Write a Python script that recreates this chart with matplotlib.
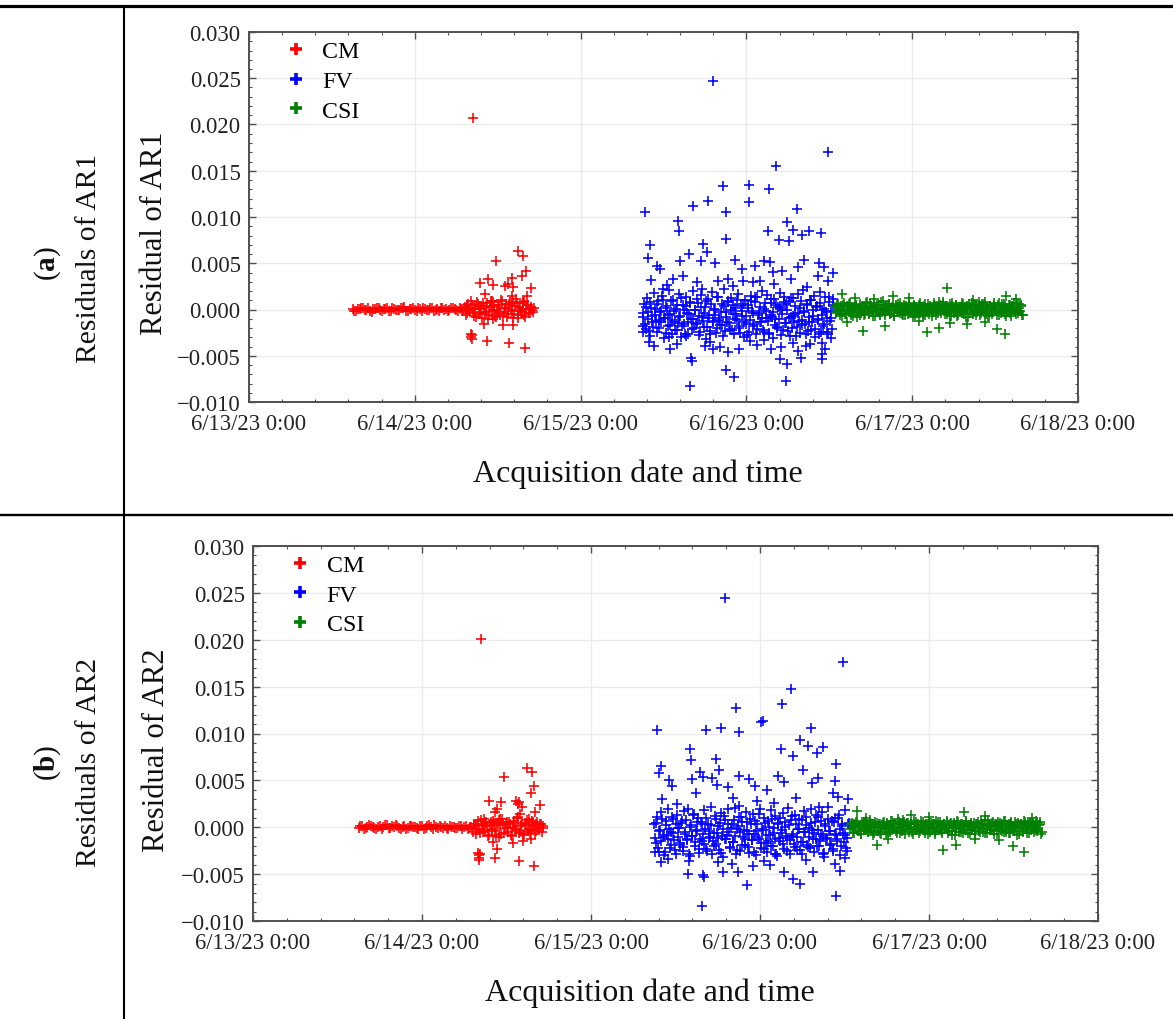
import numpy as np
import pandas as pd
import matplotlib
matplotlib.use("Agg")
import matplotlib.pyplot as plt
import matplotlib.dates as mdates
from matplotlib.ticker import MultipleLocator, AutoMinorLocator, FuncFormatter
from matplotlib.lines import Line2D

plt.rcParams['font.family'] = ['Liberation Serif', 'DejaVu Serif']
plt.rcParams['mathtext.fontset'] = 'custom'
plt.rcParams['mathtext.rm'] = 'Liberation Serif'
plt.rcParams['mathtext.bf'] = 'Liberation Serif:bold'

# ---------------- data (hours after 6/13/23 0:00, residuals in units of 0.001) ----------------
series_names = ["CM", "FV", "CSI"]
series_colors = ["#ff0000", "#0000ff", "#008000"]
x_tick_labels = ["6/13/23 0:00", "6/14/23 0:00", "6/15/23 0:00", "6/16/23 0:00", "6/17/23 0:00", "6/18/23 0:00"]

cm_hours = [15.0, 15.5, 16.0, 16.5, 17.0, 17.5, 18.0, 18.5, 19.0, 19.5, 20.0, 20.5, 21.0, 21.5, 22.0,
            22.5, 23.0, 23.5, 24.0, 24.5, 25.0, 25.5, 26.0, 26.5, 27.0, 27.5, 28.0, 28.5, 29.0, 29.5,
            30.0, 30.5, 31.0,
            31.25, 31.5, 31.75, 32.0, 32.25, 32.5, 32.75, 33.0, 33.25, 33.5, 33.75, 34.0, 34.25, 34.5,
            34.75, 35.0, 35.25, 35.5, 35.75, 36.0, 36.25, 36.5, 36.75, 37.0, 37.25, 37.5, 37.75, 38.0,
            38.25, 38.5, 38.75, 39.0, 39.25, 39.5, 39.75, 40.0, 40.25, 40.5, 40.75, 41.0, 41.25]
cm_ar1 = [0.05, -0.12, 0.10, 0.18, -0.05, -0.20, 0.08, 0.15, -0.10, 0.02,
          0.20, -0.15, 0.06, -0.08, 0.12, 0.22, -0.18, 0.04, -0.02, 0.16,
          -0.12, 0.10, -0.06, 0.20, 0.00, -0.16, 0.14, 0.08, -0.10, 0.18,
          -0.04, 0.12, -0.14,
          0.3, -0.4, 0.6, -0.2, 0.5, -0.7, 0.1, 0.8, -0.5, 0.4,
          -0.9, 0.2, -0.3, 0.7, -0.6, 0.9, -0.1, 0.5, -0.8, 0.3,
          -0.4, 1.0, -0.7, 0.2, 0.6, -0.5, 0.8, -0.2, -0.9, 0.4,
          0.7, -0.6, 0.1, -0.3, 0.9, -0.8, 0.5, -0.4, 0.3, -0.1, 0.2]
cm_ar2 = [-0.10, 0.15, -0.05, 0.20, 0.08, -0.18, 0.12, -0.02, 0.22, -0.12,
          0.05, 0.16, -0.20, 0.10, -0.06, 0.18, 0.02, -0.14, 0.12, -0.08,
          0.20, -0.16, 0.06, 0.14, -0.04, -0.12, 0.18, 0.00, -0.10, 0.16,
          0.08, -0.18, 0.04,
          -0.5, 0.4, -0.2, 0.7, -0.6, 0.3, 0.9, -0.4, 0.1, -0.8,
          0.6, -0.3, 0.5, -0.9, 0.2, 0.8, -0.7, 0.4, -0.1, 0.6,
          -0.5, 0.3, -0.9, 0.7, -0.2, 1.0, -0.6, 0.1, 0.5, -0.8,
          0.2, -0.4, 0.9, -0.3, 0.6, -0.7, 0.4, -0.1, 0.3, -0.5, 0.1]

cm_hours_2 = [15.25, 15.75, 16.25, 16.75, 17.25, 17.75, 18.25, 18.75, 19.25, 19.75, 20.25, 20.75,
              21.25, 21.75, 22.25, 22.75, 23.25, 23.75, 24.25, 24.75, 25.25, 25.75, 26.25, 26.75,
              27.25, 27.75, 28.25, 28.75, 29.25, 29.75, 30.25, 30.75,
              31.375, 31.625, 31.875, 32.125, 32.375, 32.625, 32.875, 33.125, 33.375, 33.625,
              33.875, 34.125, 34.375, 34.625, 34.875, 35.125, 35.375, 35.625, 35.875, 36.125,
              36.375, 36.625, 36.875, 37.125, 37.375, 37.625, 37.875, 38.125, 38.375, 38.625,
              38.875, 39.125, 39.375, 39.625, 39.875, 40.125, 40.375, 40.625, 40.875, 41.125]
cm_ar1_2 = [-0.15, 0.08, 0.20, -0.06, 0.12, -0.22, 0.03, 0.17, -0.11, 0.06,
            -0.19, 0.14, 0.00, -0.09, 0.21, -0.13, 0.07, 0.18, -0.17, 0.02,
            0.11, -0.07, 0.19, -0.20, 0.05, 0.13, -0.03, -0.18, 0.16, 0.09,
            -0.12, 0.04,
            -0.6, 0.5, -0.1, 0.9, -0.4, 0.2, -0.8, 0.6, -0.3, 0.1,
            0.7, -0.5, 0.4, -1.0, 0.3, -0.2, 0.8, -0.7, 0.0, 0.5,
            -0.6, 0.9, -0.3, 0.2, -0.8, 0.6, -0.1, 0.4, -0.5, 1.1,
            -0.9, 0.3, -0.2, 0.7, -0.6, 0.1, 0.5, -0.4, 0.2, -0.3]
cm_ar2_2 = [0.12, -0.20, 0.06, 0.17, -0.09, 0.03, -0.15, 0.21, -0.04, 0.10,
            0.19, -0.13, 0.07, -0.21, 0.14, 0.01, -0.08, 0.16, -0.18, 0.09,
            -0.02, 0.20, -0.11, 0.05, 0.15, -0.19, 0.08, -0.06, 0.13, -0.14,
            0.18, -0.01,
            0.4, -0.7, 0.2, -0.3, 0.8, -0.5, 0.1, 0.6, -0.9, 0.3,
            -0.2, 0.7, -0.4, 0.5, -1.0, 0.2, 0.9, -0.6, 0.3, -0.1,
            0.6, -0.8, 0.0, 0.5, -0.3, 1.1, -0.5, 0.2, -0.7, 0.4,
            0.8, -0.2, -0.6, 0.3, 0.1, -0.4, 0.6, -0.2, 0.4, -0.1]

cm_out_hours_ar1 = [32.42, 32.15, 32.2, 32.25, 32.3, 33.43, 34.15, 34.63, 35.38, 35.14, 35.71,
                    37.06, 37.54, 38.02, 38.02, 38.26, 38.26, 38.98, 39.48, 39.62, 39.62, 40.06,
                    40.2, 40.78, 34.06, 34.49, 35.38, 36.82, 37.68, 38.26, 40.0]
cm_out_ar1 = [20.7, -2.6, -3.0, -2.8, -3.2, 2.83, 1.68, 3.3, 2.65, 0.95, 5.28,
              2.57, 2.76, 3.37, 1.5, 2.4, 0.8, 6.3, 3.6, 5.75, 0.78, 4.2,
              1.5, 2.32, -1.57, -3.37, -1.0, -1.68, -3.62, -1.7, -4.2]
cm_out_hours_ar2 = [32.33, 32.0, 32.05, 32.1, 32.15, 32.2, 33.47, 34.37, 34.6, 35.27, 35.08, 35.64,
                    37.35, 37.6, 37.8, 38.15, 37.92, 38.96, 39.48, 39.57, 39.57, 39.95, 40.05, 40.76,
                    34.04, 34.41, 34.6, 36.88, 37.73, 38.3, 39.48, 39.95]
cm_out_ar2 = [20.08, -2.7, -3.0, -3.3, -3.5, -2.9, 2.84, 1.66, 2.0, 2.66, 0.88, 5.39,
              2.8, 2.5, 2.7, 2.12, 1.41, 6.32, 3.62, 5.93, 0.7, 4.36, 1.59, 2.37,
              -1.55, -3.32, -2.31, -1.69, -3.56, -1.51, -1.26, -4.09]

fv_hours = [57.0, 57.2, 57.4, 57.6, 57.8, 58.0, 58.2, 58.4, 58.6, 58.8, 59.0, 59.2, 59.4, 59.6, 59.8,
            60.0, 60.2, 60.4, 60.6, 60.8, 61.0, 61.2, 61.4, 61.6, 61.8, 62.0, 62.2, 62.4, 62.6, 62.8,
            63.0, 63.2, 63.4, 63.6, 63.8, 64.0, 64.2, 64.4, 64.6, 64.8, 65.0, 65.2, 65.4, 65.6, 65.8,
            66.0, 66.2, 66.4, 66.6, 66.8, 67.0, 67.2, 67.4, 67.6, 67.8, 68.0, 68.2, 68.4, 68.6, 68.8,
            69.0, 69.2, 69.4, 69.6, 69.8, 70.0, 70.2, 70.4, 70.6, 70.8, 71.0, 71.2, 71.4, 71.6, 71.8,
            72.0, 72.2, 72.4, 72.6, 72.8, 73.0, 73.2, 73.4, 73.6, 73.8, 74.0, 74.2, 74.4, 74.6, 74.8,
            75.0, 75.2, 75.4, 75.6, 75.8, 76.0, 76.2, 76.4, 76.6, 76.8, 77.0, 77.2, 77.4, 77.6, 77.8,
            78.0, 78.2, 78.4, 78.6, 78.8, 79.0, 79.2, 79.4, 79.6, 79.8, 80.0, 80.2, 80.4, 80.6, 80.8,
            81.0, 81.2, 81.4, 81.6, 81.8, 82.0, 82.2, 82.4, 82.6, 82.8, 83.0, 83.2, 83.4, 83.6, 83.8,
            84.0, 84.2, 84.4, 84.6]
fv_ar1 = [-0.8, 0.6, -2.1, 1.2, -0.3, -2.9, 0.2, -1.4, 1.8, -0.6,
          -2.4, 0.9, -1.1, -0.2, 1.5, -3.1, -0.9, 0.4, -1.8, 2.1,
          -0.5, -2.6, 1.0, -1.3, 0.1, -2.2, 1.7, -0.7, -3.0, 0.5,
          -1.6, 1.3, -0.4, -2.7, 0.8, -1.0, 2.0, -2.0, -0.1, -1.5,
          0.7, -2.8, 1.6, -0.8, -1.9, 0.3, -3.2, 1.1, -0.6, -2.3,
          1.9, -1.2, 0.0, -2.5, 1.4, -0.9, -1.7, 0.6, -2.9, 2.2,
          -0.3, -1.4, 0.9, -2.1, 1.2, -0.5, -2.6, 0.2, -1.1, 1.7,
          -2.0, 0.4, -0.7, -3.0, 1.0, -1.6, 0.5, -2.4, 1.5, -0.2,
          -1.8, 0.8, -2.7, 1.3, -0.4, -1.3, 2.0, -2.2, 0.1, -0.9,
          1.6, -2.5, -0.6, 0.7, -3.1, 1.1, -1.0, -1.9, 0.3, 1.8,
          -2.8, -0.1, 1.4, -1.5, 0.6, -2.3, 0.9, -0.8, -2.0, 1.2,
          -0.5, -2.9, 1.7, -1.2, 0.2, -1.7, 2.1, -0.3, -2.6, 0.5,
          -1.4, 1.0, -2.2, -0.7, 1.5, -3.0, 0.4, -1.1, 1.9, -2.4,
          0.0, -1.6, 1.3, -0.9, -2.7, 0.8, -0.2, -2.1, 1.1]
fv_ar2 = [0.4, -1.7, 1.1, -2.6, -0.3, 1.6, -1.0, -3.0, 0.7, -0.8,
          1.9, -2.2, -0.5, 0.9, -1.4, -2.9, 1.3, -0.1, -1.9, 0.5,
          -2.5, 1.7, -0.7, -1.2, 2.0, -3.1, 0.2, -0.9, 1.4, -2.0,
          -0.4, 1.0, -2.7, 0.6, -1.5, 1.8, -0.2, -2.3, 0.3, -1.1,
          2.2, -2.8, -0.6, 1.2, -1.8, 0.1, -2.4, 1.5, -0.9, -3.2,
          0.8, -1.3, 1.9, -0.5, -2.1, 0.4, -1.6, 2.1, -2.9, -0.2,
          1.1, -2.5, 0.6, -1.0, -1.9, 1.6, -0.4, -2.7, 0.9, -1.4,
          1.4, -0.7, -3.0, 0.3, -1.2, 2.0, -2.2, -0.3, 1.0, -1.7,
          -2.6, 0.7, -0.8, 1.8, -2.0, -0.1, 1.2, -3.1, 0.5, -1.5,
          -0.6, 1.5, -2.3, 0.0, -1.1, 2.1, -2.8, 0.8, -0.9, -1.8,
          1.3, -2.4, -0.2, 0.9, -1.6, -2.9, 1.7, -0.5, 0.2, -2.1,
          -1.0, 1.9, -0.3, -2.6, 0.6, -1.3, 1.1, -2.0, -0.7, 1.6,
          -2.8, 0.4, -1.2, 2.2, -0.4, -1.9, 0.7, -2.5, 1.0, -0.8,
          -1.5, 1.3, -3.0, 0.1, -0.6, 1.8, -2.2, -1.1, 0.5]

fv_hours_2 = [57.1, 57.3, 57.5, 57.7, 57.9, 58.1, 58.3, 58.5, 58.7, 58.9,
              59.1, 59.3, 59.5, 59.7, 59.9, 60.1, 60.3, 60.5, 60.7, 60.9,
              61.1, 61.3, 61.5, 61.7, 61.9, 62.1, 62.3, 62.5, 62.7, 62.9,
              63.1, 63.3, 63.5, 63.7, 63.9, 64.1, 64.3, 64.5, 64.7, 64.9,
              65.1, 65.3, 65.5, 65.7, 65.9, 66.1, 66.3, 66.5, 66.7, 66.9,
              67.1, 67.3, 67.5, 67.7, 67.9, 68.1, 68.3, 68.5, 68.7, 68.9,
              69.1, 69.3, 69.5, 69.7, 69.9, 70.1, 70.3, 70.5, 70.7, 70.9,
              71.1, 71.3, 71.5, 71.7, 71.9, 72.1, 72.3, 72.5, 72.7, 72.9,
              73.1, 73.3, 73.5, 73.7, 73.9, 74.1, 74.3, 74.5, 74.7, 74.9,
              75.1, 75.3, 75.5, 75.7, 75.9, 76.1, 76.3, 76.5, 76.7, 76.9,
              77.1, 77.3, 77.5, 77.7, 77.9, 78.1, 78.3, 78.5, 78.7, 78.9,
              79.1, 79.3, 79.5, 79.7, 79.9, 80.1, 80.3, 80.5, 80.7, 80.9,
              81.1, 81.3, 81.5, 81.7, 81.9, 82.1, 82.3, 82.5, 82.7, 82.9,
              83.1, 83.3, 83.5, 83.7, 83.9, 84.1, 84.3, 84.5]
fv_ar1_2 = [-0.4, -1.6, 0.3, -1.0, -2.3, 0.8, -0.7, -1.9, 0.1, -1.2,
            0.6, -2.0, -0.3, -1.4, 1.0, -0.9, -2.5, 0.2, -0.6, -1.7,
            0.9, -1.1, -0.2, -2.2, 0.5, -1.5, -0.8, 1.2, -1.8, -0.1,
            -2.6, 0.4, -1.3, -0.5, 0.7, -2.1, -1.0, 0.0, -1.6, 1.1,
            -0.7, -2.4, 0.3, -1.2, -0.4, 0.9, -1.9, -0.9, -2.7, 0.6,
            -1.4, 0.1, -0.6, -2.0, 1.3, -1.1, -0.3, -1.7, 0.4, -2.3,
            -0.8, 0.8, -1.5, -0.1, -2.2, 0.5, -1.0, -0.5, 1.0, -1.8,
            -2.5, -0.2, 0.6, -1.3, -0.7, -2.8, 0.2, -1.1, 0.9, -0.4,
            -1.6, 1.4, -2.1, -0.6, 0.3, -1.4, -0.9, -2.4, 0.7, -0.2,
            -1.2, -2.6, 1.1, -0.8, -0.3, -1.7, 0.5, -2.0, -1.0, 0.2,
            -0.5, -2.2, 0.8, -1.5, 0.0, -0.9, -2.9, 1.2, -0.7, -1.3,
            0.4, -1.9, -0.4, -2.5, 0.9, -1.1, -0.2, -1.6, 0.6, -2.3,
            -0.8, 1.0, -1.4, -0.1, -2.1, 0.3, -1.0, -2.7, 0.7, -0.6,
            -1.8, 0.1, -0.3, -2.4, 1.3, -1.2, -0.9, 0.5]
fv_ar2_2 = [-1.1, 0.5, -2.2, -0.4, -1.5, 0.9, -0.8, -2.6, 0.2, -1.3,
            -0.2, -1.9, 1.1, -0.6, -2.4, 0.4, -1.0, -0.1, -1.7, 0.7,
            -2.1, -0.5, 0.8, -1.4, -2.8, 0.0, -0.9, 1.3, -1.6, -0.3,
            0.6, -2.3, -1.2, 0.3, -0.7, -1.8, 1.0, -2.5, -0.4, -1.0,
            0.2, -1.5, -2.0, 0.9, -0.6, -1.1, 0.5, -2.7, -0.2, 1.2,
            -1.3, -0.8, 0.4, -2.2, -0.1, -1.6, 0.8, -0.9, -2.4, 0.1,
            -0.5, 1.1, -1.9, -0.3, -1.2, 0.6, -2.1, -0.7, 0.3, -1.4,
            -2.6, 0.7, -0.4, -1.0, 1.4, -1.7, -0.2, -2.3, 0.5, -0.8,
            -1.5, 0.0, -2.0, 0.9, -0.6, -1.3, -2.8, 0.3, -1.1, 1.0,
            -0.3, -1.8, 0.6, -0.9, -2.5, 0.2, -1.4, 1.2, -0.7, -2.1,
            0.4, -1.0, -0.2, -2.4, 0.8, -1.6, -0.5, 1.1, -1.9, -0.1,
            -2.2, 0.5, -1.2, -0.6, 1.3, -2.0, -0.3, -1.5, 0.7, -0.9,
            -2.7, 0.1, -1.1, 0.9, -0.4, -1.8, -2.3, 0.6, -0.7, -1.3,
            1.0, -0.2, -2.0, 0.3, -1.6, -0.8, -2.5, 0.4]

fv_out_hours_ar1 = [67.12, 83.86, 76.28, 68.57, 72.33, 75.22, 64.32, 66.39, 72.38, 57.37, 69.0, 79.27,
                    62.05, 62.2, 77.83, 75.08, 78.79, 80.1, 81.1, 82.84, 76.72, 78.12, 69.0, 58.0,
                    57.7, 65.77, 66.25, 63.64, 62.39, 59.0, 59.5, 58.15, 61.33, 62.87, 65.38, 67.45,
                    70.35, 73.29, 74.55, 75.41, 75.9, 77.11, 79.52, 80.29, 82.56, 83.23, 84.49, 67.94,
                    69.38, 71.31, 71.55, 73.0, 73.97, 78.45, 82.41, 83.86, 59.98, 64.8, 65.53,
                    60.5, 70.0, 76.0, 80.8,
                    63.84, 69.05, 70.2, 77.69, 76.86, 77.83, 63.93, 64.08, 82.9, 82.9, 83.38, 69.38,
                    70.97, 79.9, 79.42, 81.2, 61.9, 57.95, 57.08, 75.52, 67.21, 63.26, 57.1,
                    66.8, 72.5, 78.8, 74.6, 60.8, 58.6, 61.0, 66.0, 68.2, 73.5, 77.0, 80.6, 83.0, 84.2]
fv_out_ar1 = [24.67, 16.99, 15.55, 13.39, 13.5, 13.03, 11.23, 11.7, 11.59, 10.5, 10.5, 10.86,
              9.54, 8.45, 9.42, 8.45, 8.59, 8.09, 8.52, 8.24, 7.5, 7.37, 7.62, 7.0,
              5.57, 7.08, 6.25, 6.0, 5.2, 4.74, 4.38, 3.19, 3.3, 3.66, 5.28, 5.03,
              5.39, 4.74, 5.28, 5.17, 4.02, 4.13, 4.56, 5.35, 5.03, 4.56, 3.9, 3.12,
              3.3, 4.38, 3.12, 2.94, 3.12, 3.3, 3.66, 3.12, 2.22, 2.94, 2.22,
              2.6, 2.5, 2.8, 2.4,
              -8.23, -6.5, -7.26, -7.76, -5.35, -5.89, -5.24, -5.53, -5.35, -4.8, -4.27, -4.56,
              -4.27, -5.28, -4.52, -3.73, -3.73, -3.47, -2.46, -4.27, -4.27, -2.83, -1.74,
              -3.5, -3.4, -3.6, -3.3, -3.0, -3.9, -4.3, -3.9, -4.0, -3.8, -4.1, -3.9, -3.6, -3.1]
fv_out_hours_ar2 = [67.07, 83.83, 76.35, 75.17, 68.55, 72.38, 72.2, 57.33, 64.33, 66.46, 69.02, 79.24,
                    77.73, 78.77, 81.0, 80.05, 75.03, 76.64, 62.01, 62.15, 65.75, 57.94, 57.61, 66.22,
                    78.06, 82.79, 59.12, 59.46, 62.34, 63.48, 63.95, 65.14, 65.94, 67.5, 69.02, 70.48,
                    71.29, 72.94, 74.6, 75.41, 79.43, 80.28, 82.65, 82.4, 83.12, 84.45, 62.87, 58.08,
                    68.21, 69.06, 71.53, 77.11, 80.43, 60.2, 74.0,
                    63.81, 82.79, 70.1, 77.68, 76.73, 64.09, 63.86, 61.82, 66.79, 68.92, 70.96, 75.41,
                    79.48, 83.36, 82.65, 81.09, 57.89, 57.09, 61.96, 74.13, 72.62,
                    59.0, 66.0, 68.0, 73.4, 78.5, 84.0]
fv_out_ar2 = [24.45, 17.66, 14.75, 13.18, 12.68, 11.37, 11.2, 10.34, 10.34, 10.62, 10.12, 10.62,
              9.27, 8.7, 8.52, 7.92, 8.31, 7.56, 8.31, 7.2, 7.31, 6.5, 5.74, 6.14,
              6.1, 6.75, 5.04, 4.36, 5.14, 5.93, 5.33, 5.26, 4.51, 4.3, 5.5, 5.15,
              4.44, 4.0, 5.44, 4.87, 4.73, 5.26, 4.97, 3.62, 3.19, 3.01, 3.62, 3.01,
              3.13, 2.3, 2.76, 3.08, 2.13, 2.5, 2.6,
              -8.37, -7.37, -6.16, -6.05, -5.52, -5.34, -5.1, -4.99, -4.81, -4.81, -4.1, -4.81,
              -4.81, -4.7, -3.92, -3.2, -3.67, -2.6, -3.56, -2.85, -3.56,
              -3.4, -3.7, -3.9, -4.0, -3.5, -3.3]

csi_hours = [84.8, 85.0, 85.2, 85.4, 85.6, 85.8, 86.0, 86.2, 86.4, 86.6, 86.8, 87.0, 87.2, 87.4, 87.6,
             87.8, 88.0, 88.2, 88.4, 88.6, 88.8, 89.0, 89.2, 89.4, 89.6, 89.8, 90.0, 90.2, 90.4, 90.6,
             90.8, 91.0, 91.2, 91.4, 91.6, 91.8, 92.0, 92.2, 92.4, 92.6, 92.8, 93.0, 93.2, 93.4, 93.6,
             93.8, 94.0, 94.2, 94.4, 94.6, 94.8, 95.0, 95.2, 95.4, 95.6, 95.8, 96.0, 96.2, 96.4, 96.6,
             96.8, 97.0, 97.2, 97.4, 97.6, 97.8, 98.0, 98.2, 98.4, 98.6, 98.8, 99.0, 99.2, 99.4, 99.6,
             99.8, 100.0, 100.2, 100.4, 100.6, 100.8, 101.0, 101.2, 101.4, 101.6, 101.8, 102.0, 102.2,
             102.4, 102.6, 102.8, 103.0, 103.2, 103.4, 103.6, 103.8, 104.0, 104.2, 104.4, 104.6, 104.8,
             105.0, 105.2, 105.4, 105.6, 105.8, 106.0, 106.2, 106.4, 106.6, 106.8, 107.0, 107.2, 107.4,
             107.6, 107.8, 108.0, 108.2, 108.4, 108.6, 108.8, 109.0, 109.2, 109.4, 109.6, 109.8, 110.0,
             110.2, 110.4, 110.6, 110.8, 111.0, 111.2, 111.4, 111.6, 111.8, 112.0]
csi_ar1 = [0.3, -0.4, 0.6, -0.2, 0.1, -0.7, 0.5, 0.0, -0.5, 0.4,
           -0.1, 0.7, -0.6, 0.2, -0.3, 0.5, -0.8, 0.1, 0.6, -0.4,
           0.0, -0.6, 0.3, 0.8, -0.2, -0.5, 0.4, -0.1, 0.7, -0.7,
           0.2, -0.3, 0.5, -0.6, 0.1, 0.9, -0.4, 0.3, -0.2, 0.6,
           -0.5, 0.0, 0.4, -0.7, 0.2, -0.1, 0.6, -0.4, 0.3, -0.6,
           0.5, -0.2, 0.1, -0.5, 0.7, -0.3, 0.0, 0.4, -0.6, 0.2,
           -0.1, 0.5, -0.4, 0.3, -0.7, 0.6, -0.2, 0.1, -0.5, 0.4,
           0.0, -0.3, 0.7, -0.6, 0.2, -0.1, 0.5, -0.4, 0.8, -0.2,
           0.3, -0.5, 0.1, 0.6, -0.7, 0.4, -0.3, 0.0, 0.5, -0.6,
           0.2, -0.1, 0.7, -0.4, 0.3, -0.8, 0.1, 0.6, -0.2, 0.4,
           -0.5, 0.0, 0.5, -0.3, 0.8, -0.6, 0.2, -0.1, 0.6, -0.4,
           0.3, -0.7, 0.4, 0.1, -0.5, 0.7, -0.2, 0.0, 0.5, -0.6,
           0.2, 0.6, -0.3, 0.4, -0.7, 0.1, 0.5, -0.4, 0.3, -0.1,
           0.7, -0.5, 0.2, 0.6, -0.2, 0.4, -0.6]
csi_ar2 = [-0.2, 0.5, -0.6, 0.3, 0.0, 0.7, -0.4, 0.1, -0.7, 0.4,
           0.6, -0.3, 0.2, -0.5, 0.8, -0.1, 0.4, -0.6, 0.0, 0.5,
           -0.4, 0.3, -0.7, 0.1, 0.6, -0.2, 0.5, -0.5, 0.2, 0.7,
           -0.3, 0.0, 0.4, -0.6, 0.9, -0.1, 0.3, -0.4, 0.6, -0.7,
           0.1, 0.5, -0.2, 0.3, -0.5, 0.7, 0.0, -0.3, 0.4, -0.6,
           0.2, -0.1, 0.6, -0.4, 0.3, -0.7, 0.5, 0.1, -0.2, 0.4,
           -0.5, 0.7, -0.3, 0.0, 0.6, -0.6, 0.2, 0.4, -0.1, 0.5,
           -0.4, 0.3, -0.8, 0.1, 0.5, -0.2, 0.7, -0.5, 0.0, 0.4,
           -0.6, 0.2, 0.6, -0.3, 0.1, -0.7, 0.4, 0.0, 0.5, -0.4,
           0.3, -0.1, -0.5, 0.7, -0.2, 0.4, -0.6, 0.2, 0.8, -0.3,
           0.0, 0.5, -0.4, 0.3, -0.7, 0.6, 0.1, -0.2, 0.4, -0.5,
           0.7, -0.3, 0.2, -0.6, 0.5, 0.0, -0.4, 0.6, -0.1, 0.3,
           -0.7, 0.4, 0.1, -0.5, 0.6, -0.2, 0.3, -0.6, 0.5, 0.0,
           0.4, -0.3, 0.7, -0.4, 0.2, 0.6, -0.5]

csi_hours_2 = [84.9, 85.1, 85.3, 85.5, 85.7, 85.9, 86.1, 86.3, 86.5, 86.7,
               86.9, 87.1, 87.3, 87.5, 87.7, 87.9, 88.1, 88.3, 88.5, 88.7,
               88.9, 89.1, 89.3, 89.5, 89.7, 89.9, 90.1, 90.3, 90.5, 90.7,
               90.9, 91.1, 91.3, 91.5, 91.7, 91.9, 92.1, 92.3, 92.5, 92.7,
               92.9, 93.1, 93.3, 93.5, 93.7, 93.9, 94.1, 94.3, 94.5, 94.7,
               94.9, 95.1, 95.3, 95.5, 95.7, 95.9, 96.1, 96.3, 96.5, 96.7,
               96.9, 97.1, 97.3, 97.5, 97.7, 97.9, 98.1, 98.3, 98.5, 98.7,
               98.9, 99.1, 99.3, 99.5, 99.7, 99.9, 100.1, 100.3, 100.5, 100.7,
               100.9, 101.1, 101.3, 101.5, 101.7, 101.9, 102.1, 102.3, 102.5, 102.7,
               102.9, 103.1, 103.3, 103.5, 103.7, 103.9, 104.1, 104.3, 104.5, 104.7,
               104.9, 105.1, 105.3, 105.5, 105.7, 105.9, 106.1, 106.3, 106.5, 106.7,
               106.9, 107.1, 107.3, 107.5, 107.7, 107.9, 108.1, 108.3, 108.5, 108.7,
               108.9, 109.1, 109.3, 109.5, 109.7, 109.9, 110.1, 110.3, 110.5, 110.7,
               110.9, 111.1, 111.3, 111.5, 111.7, 111.9]
csi_ar1_2 = [-0.3, 0.5, 0.0, -0.6, 0.4, -0.2, 0.7, -0.5, 0.2, -0.1,
             0.6, -0.4, 0.1, -0.7, 0.3, 0.5, -0.3, 0.0, -0.6, 0.4,
             0.2, -0.5, 0.7, -0.1, -0.4, 0.6, 0.1, -0.7, 0.3, -0.2,
             0.5, 0.0, -0.5, 0.8, -0.3, 0.2, -0.6, 0.4, -0.1, 0.6,
             -0.4, 0.3, -0.7, 0.1, 0.5, -0.2, 0.0, 0.7, -0.5, 0.2,
             -0.6, 0.4, -0.1, 0.6, -0.3, 0.1, -0.8, 0.5, 0.3, -0.4,
             0.0, 0.7, -0.2, -0.5, 0.4, -0.6, 0.2, 0.6, -0.3, 0.1,
             -0.7, 0.5, 0.3, -0.1, -0.4, 0.8, -0.2, 0.0, 0.6, -0.5,
             0.4, -0.3, 0.1, -0.6, 0.7, 0.2, -0.4, 0.5, -0.7, 0.0,
             0.3, -0.2, 0.6, -0.5, 0.1, 0.4, -0.8, 0.2, -0.1, 0.7,
             -0.3, 0.5, -0.6, 0.0, 0.3, -0.4, 0.6, -0.2, 0.8, -0.5,
             0.1, -0.7, 0.4, 0.2, -0.3, 0.5, -0.1, -0.6, 0.7, 0.0,
             -0.4, 0.3, 0.6, -0.5, 0.2, -0.2, 0.5, -0.7, 0.4, 0.1,
             -0.3, 0.6, -0.4, 0.2, 0.5, -0.6]
csi_ar2_2 = [0.4, -0.1, -0.6, 0.2, 0.6, -0.4, 0.0, -0.7, 0.3, 0.5,
             -0.2, 0.7, -0.5, 0.1, -0.3, 0.4, -0.8, 0.6, 0.0, -0.4,
             0.3, -0.6, 0.2, 0.5, -0.1, -0.7, 0.4, 0.1, -0.5, 0.7,
             -0.2, 0.3, -0.4, 0.0, 0.6, -0.6, 0.2, 0.8, -0.3, 0.1,
             0.5, -0.5, -0.1, 0.4, -0.7, 0.3, 0.6, -0.2, 0.0, -0.4,
             0.7, -0.3, 0.2, -0.6, 0.4, 0.1, -0.5, 0.5, -0.1, 0.3,
             -0.7, 0.0, 0.6, -0.3, 0.2, -0.5, 0.4, -0.2, 0.7, -0.6,
             0.1, 0.5, -0.4, 0.3, -0.8, 0.2, 0.6, -0.1, -0.5, 0.4,
             0.0, -0.3, 0.7, -0.6, 0.2, 0.5, -0.2, 0.1, -0.7, 0.3,
             0.6, -0.4, 0.0, 0.4, -0.5, 0.8, -0.2, -0.6, 0.3, 0.1,
             -0.3, 0.6, -0.7, 0.2, 0.4, -0.1, 0.5, -0.4, 0.0, 0.7,
             -0.5, 0.2, 0.3, -0.6, 0.6, -0.2, 0.1, 0.4, -0.8, 0.5,
             -0.1, 0.3, -0.4, 0.7, 0.0, -0.6, 0.2, 0.5, -0.3, 0.4,
             -0.5, 0.1, 0.6, -0.2, 0.3, -0.7]

csi_out_hours_ar1 = [100.99, 109.58, 98.09, 99.93, 88.83, 109.43, 108.22, 85.79, 93.27, 92.06, 86.51,
                     103.88, 90.5, 95.6, 104.8, 106.5, 97.0, 111.0, 87.7, 101.5]
csi_out_ar1 = [2.29, 1.42, -2.46, -2.04, -2.29, -2.65, -2.11, 1.68, 1.42, -1.74, -1.39,
               -1.56, 1.1, 1.2, 1.0, -1.3, -1.2, 1.1, 1.2, -1.5]
csi_out_hours_ar2 = [98.03, 109.49, 99.83, 88.57, 100.97, 93.44, 85.73, 107.98, 104.0, 96.0, 90.2,
                     106.0, 110.6, 102.6, 87.0]
csi_out_ar2 = [-2.43, -2.67, -1.89, -1.89, 1.59, 1.31, 1.77, -1.96, 1.2, 1.1, -1.3,
               -1.4, 1.0, -1.2, 1.0]

panels = [
    dict(tag="a", model="AR1",
         series=[[(cm_hours, cm_ar1), (cm_hours_2, cm_ar1_2), (cm_out_hours_ar1, cm_out_ar1)],
                 [(fv_hours, fv_ar1), (fv_hours_2, fv_ar1_2), (fv_out_hours_ar1, fv_out_ar1)],
                 [(csi_hours, csi_ar1), (csi_hours_2, csi_ar1_2), (csi_out_hours_ar1, csi_out_ar1)]]),
    dict(tag="b", model="AR2",
         series=[[(cm_hours, cm_ar2), (cm_hours_2, cm_ar2_2), (cm_out_hours_ar2, cm_out_ar2)],
                 [(fv_hours, fv_ar2), (fv_hours_2, fv_ar2_2), (fv_out_hours_ar2, fv_out_ar2)],
                 [(csi_hours, csi_ar2), (csi_hours_2, csi_ar2_2), (csi_out_hours_ar2, csi_out_ar2)]]),
]

BASE = pd.Timestamp("2023-06-13 00:00")


def to_dt(hours):
    return (BASE + pd.to_timedelta(np.asarray(hours, dtype=float), unit="h")).to_numpy()


W, H = 1173, 1020
fig = plt.figure(figsize=(W / 100, H / 100), dpi=100)

# layout in pixels: (left, right, top, bottom)
axes_px = [(249, 1078, 33, 403), (253, 1098, 547, 922)]
xlabel_px = [(638, 474), (650, 993)]
ylabel_px = [(155, 233), (157, 750)]
tag_px = [(48, 264), (48, 763)]
rowlab_px = [(89, 258), (89, 762)]

spine_col = "#505050"
for i, p in enumerate(panels):
    l, r, t, b = axes_px[i]
    ax = fig.add_axes([l / W, 1 - b / H, (r - l) / W, (b - t) / H])
    for parts, col in zip(p["series"], series_colors):
        allh, allv = [], []
        for hrs, vals in parts:
            allh += list(hrs)
            allv += list(vals)
        ax.plot(to_dt(allh), np.array(allv) * 1e-3, linestyle="none", marker="+", color=col,
                markersize=7, markeredgewidth=1.15, zorder=3)
    ax.set_xlim(to_dt([0.0])[0], to_dt([120.0])[0])
    ax.set_ylim(-0.010, 0.030)
    ax.xaxis.set_major_locator(mdates.DayLocator())
    ax.xaxis.set_minor_locator(AutoMinorLocator(5))
    ax.set_xticks(ax.get_xticks())
    ax.set_xticklabels(x_tick_labels)
    ax.yaxis.set_major_locator(MultipleLocator(0.005))
    ax.yaxis.set_minor_locator(MultipleLocator(0.001))
    ax.yaxis.set_major_formatter(FuncFormatter(lambda v, pos: f"{v:.3f}".replace("-", "\u2212")))
    ax.grid(True, which="major", color="#ebebeb", linewidth=1.0, zorder=0)
    ax.set_axisbelow(True)
    for s in ax.spines.values():
        s.set_color(spine_col)
        s.set_linewidth(1.4)
    ax.tick_params(which="both", direction="in", top=True, right=True, colors=spine_col,
                   labelcolor="#222222")
    ax.tick_params(which="major", length=5, width=1.0, labelsize=16.3)
    ax.tick_params(which="minor", length=2.5, width=0.8)
    ax.tick_params(axis="x", which="major", pad=8)
    ax.tick_params(axis="y", which="major", pad=6)

    ax.set_xlabel("Acquisition date and time", fontsize=23, color="#111111")
    xl, yl = xlabel_px[i]
    ax.xaxis.set_label_coords((xl - l) / (r - l), (b - yl) / (b - t))
    ax.xaxis.label.set_va("center")
    ax.set_ylabel(f"Residual of {p['model']}", fontsize=22, color="#111111")
    xl, yl = ylabel_px[i]
    ax.yaxis.set_label_coords((xl - l) / (r - l), (b - yl) / (b - t))
    ax.yaxis.label.set_va("center")

    handles = [Line2D([], [], linestyle="none", marker="+", color=c, markersize=9,
                      markeredgewidth=2.6) for c in series_colors]
    ax.legend(handles, series_names, loc="upper left", bbox_to_anchor=(0.022, 1.022),
              frameon=False, fontsize=17.2, handlelength=1.0, handletextpad=0.6,
              labelspacing=0.33, borderaxespad=0.3)

    tx, ty = tag_px[i]
    fig.text(tx / W, 1 - ty / H, rf"($\mathbf{{{p['tag']}}}$)", rotation=90,
             ha="center", va="center", fontsize=21, color="#111111")
    rx, ry = rowlab_px[i]
    fig.text(rx / W, 1 - ry / H, f"Residuals of {p['model']}", rotation=90,
             ha="center", va="center", fontsize=21.3, color="#111111")

# table rules
fig.add_artist(Line2D([0, 1], [1 - 6.5 / H, 1 - 6.5 / H], transform=fig.transFigure,
                      color="black", linewidth=2.3))
fig.add_artist(Line2D([0, 1], [1 - 515.5 / H, 1 - 515.5 / H], transform=fig.transFigure,
                      color="black", linewidth=1.7))
fig.add_artist(Line2D([124 / W, 124 / W], [0, 1 - 6.5 / H], transform=fig.transFigure,
                      color="black", linewidth=1.5))

fig.savefig("out.png", dpi=100)
